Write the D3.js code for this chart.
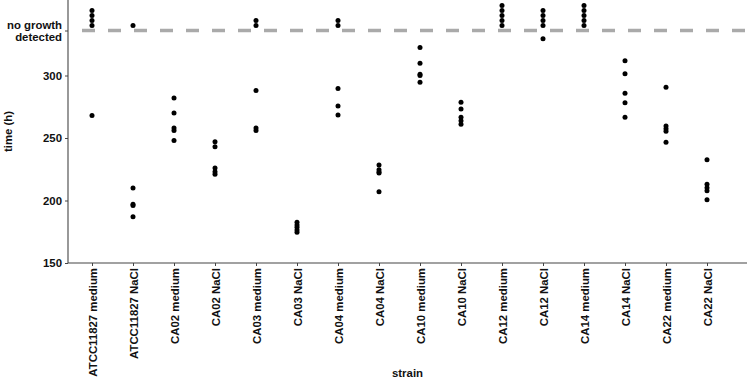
<!DOCTYPE html>
<html><head><meta charset="utf-8">
<script src="https://cdn.jsdelivr.net/npm/d3@7"></script>
<style>body{margin:0;background:#fff;} text{font-family:"Liberation Sans",Arial,sans-serif;font-weight:bold;}</style>
</head><body><svg id="c" width="747" height="379"></svg>
<script>
const strains = ["ATCC11827 medium","ATCC11827 NaCl","CA02 medium","CA02 NaCl","CA03 medium","CA03 NaCl","CA04 medium","CA04 NaCl","CA10 medium","CA10 NaCl","CA12 medium","CA12 NaCl","CA14 medium","CA14 NaCl","CA22 medium","CA22 NaCl"];
// values >= 340 are "no growth detected" replicates, stacked above the line
const times = [
  [352,348,344,340,268],
  [340,210,197,196,187],
  [282,270,258,256,248],
  [247,243,226,223,221],
  [344,340,288,258,256],
  [182.6,180.4,178.6,176.4,174.6],
  [344,340,289.7,275.6,268.4],
  [228.4,224.6,222.8,222,207],
  [322.4,309.8,301,300,294.6],
  [278.6,273.2,266.6,263.8,261],
  [356,352,348,344,340],
  [352,348,344,340,329.4],
  [356,352,348,344,340],
  [311.8,301.4,285.8,278.2,266.6],
  [290.6,259.6,257.4,255.4,246.6],
  [232.6,213,210.2,207.8,200.6]
];
const noGrowth = 336;
const yTicks = [150,200,250,300];
const noGrowthLabel = ["no growth","detected"];

const svg = d3.select("#c");
const L = 68, R = 747, T = 0, B = 263;
const FS = 11.4;
const x = d3.scalePoint().domain(strains).range([92, 707]);
const y = d3.scaleLinear().domain([150, 360.4]).range([B, T]);

// dashed no-growth line
svg.append("line").attr("x1", 82).attr("x2", 745)
  .attr("y1", y(noGrowth)).attr("y2", y(noGrowth))
  .attr("stroke", "#aaaaaa").attr("stroke-width", 3.5).attr("stroke-dasharray", "13,13");

// points
const pts = [];
strains.forEach((s, i) => times[i].forEach(v => pts.push({s, v})));
svg.append("g").selectAll("circle").data(pts).join("circle")
  .attr("cx", d => x(d.s)).attr("cy", d => y(d.v)).attr("r", 2.5).attr("fill", "#000");

// y axis
const yAxis = d3.axisLeft(y).tickValues(yTicks.concat([noGrowth])).tickSize(3).tickPadding(3)
  .tickFormat(d => d === noGrowth ? "" : d);
const gy = svg.append("g").attr("transform", `translate(${L},0)`).call(yAxis);
gy.select(".domain").attr("stroke", "#444").attr("stroke-width", 1.1).attr("d", `M0,${T}V${B}`);
gy.selectAll(".tick line").attr("stroke", "#444");
gy.selectAll(".tick text").attr("font-size", FS).attr("fill", "#111").attr("font-weight", "bold");
const ng = gy.append("text").attr("x", -6).attr("y", y(noGrowth) - 5).attr("text-anchor", "end")
  .attr("font-size", FS).attr("fill", "#111");
ng.selectAll("tspan").data(noGrowthLabel).join("tspan").attr("x", -6)
  .attr("dy", (d, i) => i === 0 ? "0.35em" : "1.0em").text(d => d);

// x axis
const xAxis = d3.axisBottom(x).tickSize(3).tickPadding(3);
const gx = svg.append("g").attr("transform", `translate(0,${B})`).call(xAxis);
gx.select(".domain").attr("stroke", "#444").attr("stroke-width", 1.1).attr("d", `M${L},0H${R}`);
gx.selectAll(".tick line").attr("stroke", "#444");
gx.selectAll(".tick text").attr("font-size", FS).attr("fill", "#111")
  .attr("transform", "rotate(-90)").attr("text-anchor", "end")
  .attr("x", -5).attr("y", 0).attr("dy", "0.35em");

// titles
svg.append("text").attr("x", (L + R) / 2).attr("y", 377).attr("text-anchor", "middle")
  .attr("font-size", FS).attr("fill", "#111").text("strain");
svg.append("text").attr("transform", `translate(12,${(T + B) / 2}) rotate(-90)`)
  .attr("text-anchor", "middle").attr("font-size", FS).attr("fill", "#111").text("time (h)");
</script></body></html>
